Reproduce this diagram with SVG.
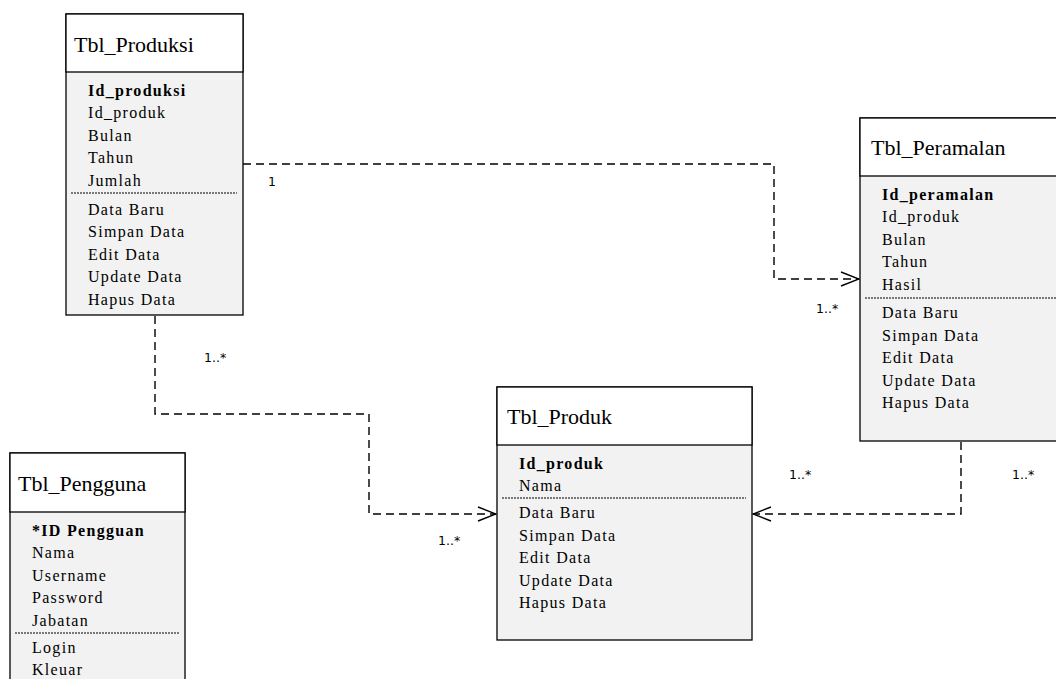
<svg xmlns="http://www.w3.org/2000/svg" width="1056" height="679" viewBox="0 0 1056 679">
<style>
.box{fill:#f2f2f2;stroke:#000;stroke-width:1.3}
.head{fill:#fff;stroke:#000;stroke-width:1.3}
.title{font-family:"Liberation Serif","Times New Roman",serif;font-size:22px;fill:#000}
.row{font-family:"Liberation Serif","Times New Roman",serif;font-size:16px;letter-spacing:1.3px;fill:#000}
.b{font-weight:bold}
.sep{stroke:#000;stroke-width:1;stroke-dasharray:2 1}
.conn{fill:none;stroke:#000;stroke-width:1.4;stroke-dasharray:8 5}
.lbl{font-family:"DejaVu Sans",Verdana,sans-serif;font-size:12.5px;fill:#000}
</style>
<defs>
<marker id="open" viewBox="0 0 20 16" refX="19" refY="8" markerWidth="20" markerHeight="16" markerUnits="userSpaceOnUse" orient="auto">
<path d="M1,1 L19,8 L1,15" fill="none" stroke="#000" stroke-width="1.4"/>
</marker>
</defs>
<rect width="1056" height="679" fill="#fff"/>

<g id="connectors">
<path class="conn" d="M243,164 H774 V279 H859" marker-end="url(#open)"/>
<path class="conn" d="M155,316 V414 H369 V514 H496" marker-end="url(#open)"/>
<path class="conn" d="M961,442 V514 H753" marker-end="url(#open)"/>
<text class="lbl" x="268" y="186">1</text>
<text class="lbl" x="816" y="313">1..*</text>
<text class="lbl" x="204" y="362">1..*</text>
<text class="lbl" x="438" y="545">1..*</text>
<text class="lbl" x="789" y="479">1..*</text>
<text class="lbl" x="1012" y="479">1..*</text>
</g>

<g id="tbl_produksi">
<rect class="box" x="66" y="14" width="177" height="301"/>
<rect class="head" x="66" y="14" width="177" height="58"/>
<text class="title" x="74" y="52">Tbl_Produksi</text>
<text class="row b" x="88" y="96">Id_produksi</text>
<text class="row" x="88" y="118">Id_produk</text>
<text class="row" x="88" y="141">Bulan</text>
<text class="row" x="88" y="163">Tahun</text>
<text class="row" x="88" y="186">Jumlah</text>
<line class="sep" x1="71" y1="193" x2="237" y2="193"/>
<text class="row" x="88" y="215">Data Baru</text>
<text class="row" x="88" y="237">Simpan Data</text>
<text class="row" x="88" y="260">Edit Data</text>
<text class="row" x="88" y="282">Update Data</text>
<text class="row" x="88" y="305">Hapus Data</text>
</g>

<g id="tbl_peramalan">
<rect class="box" x="860" y="118" width="200" height="323"/>
<rect class="head" x="860" y="118" width="200" height="58"/>
<text class="title" x="871" y="155">Tbl_Peramalan</text>
<text class="row b" x="882" y="200">Id_peramalan</text>
<text class="row" x="882" y="222">Id_produk</text>
<text class="row" x="882" y="245">Bulan</text>
<text class="row" x="882" y="267">Tahun</text>
<text class="row" x="882" y="290">Hasil</text>
<line class="sep" x1="865" y1="298" x2="1056" y2="298"/>
<text class="row" x="882" y="318">Data Baru</text>
<text class="row" x="882" y="341">Simpan Data</text>
<text class="row" x="882" y="363">Edit Data</text>
<text class="row" x="882" y="386">Update Data</text>
<text class="row" x="882" y="408">Hapus Data</text>
</g>

<g id="tbl_produk">
<rect class="box" x="497" y="387" width="255" height="253"/>
<rect class="head" x="497" y="387" width="255" height="58"/>
<text class="title" x="507" y="424">Tbl_Produk</text>
<text class="row b" x="519" y="469">Id_produk</text>
<text class="row" x="519" y="491">Nama</text>
<line class="sep" x1="502" y1="498" x2="746" y2="498"/>
<text class="row" x="519" y="518">Data Baru</text>
<text class="row" x="519" y="541">Simpan Data</text>
<text class="row" x="519" y="563">Edit Data</text>
<text class="row" x="519" y="586">Update Data</text>
<text class="row" x="519" y="608">Hapus Data</text>
</g>

<g id="tbl_pengguna">
<rect class="box" x="10" y="453" width="175" height="240"/>
<rect class="head" x="10" y="453" width="175" height="59"/>
<text class="title" x="18" y="491">Tbl_Pengguna</text>
<text class="row b" x="32" y="536">*ID Pengguan</text>
<text class="row" x="32" y="558">Nama</text>
<text class="row" x="32" y="581">Username</text>
<text class="row" x="32" y="603">Password</text>
<text class="row" x="32" y="626">Jabatan</text>
<line class="sep" x1="15" y1="633" x2="180" y2="633"/>
<text class="row" x="32" y="653">Login</text>
<text class="row" x="32" y="675">Kleuar</text>
</g>
</svg>
